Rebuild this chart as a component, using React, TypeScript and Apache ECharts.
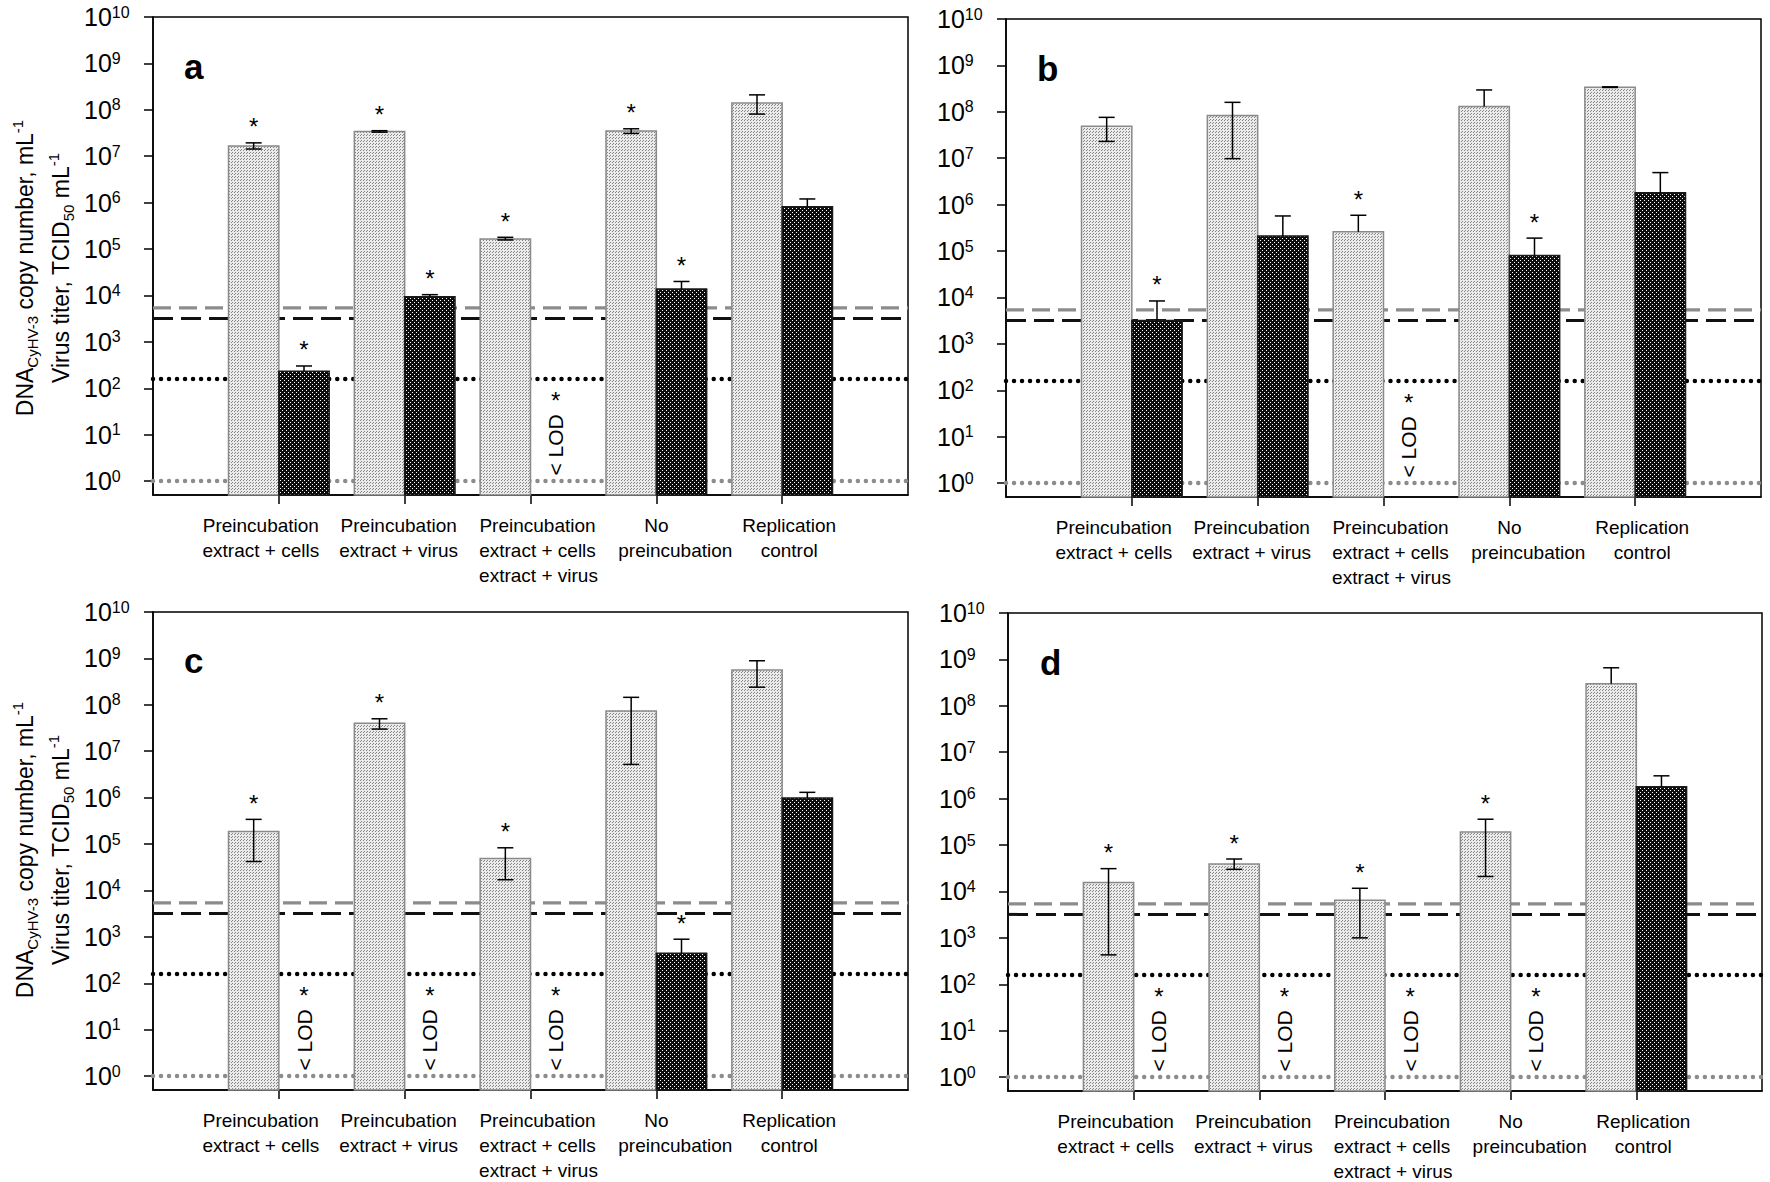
import React, { useEffect, useRef } from "react";
import * as echarts from "echarts";

// ---------- data ----------
const categories = [
  "Preincubation\nextract + cells",
  "Preincubation\nextract + virus",
  "Preincubation\nextract + cells\nextract + virus",
  "No\npreincubation",
  "Replication\ncontrol",
];
const exponents = [0, 1, 2, 3, 4, 5, 6, 7, 8, 9, 10];
const panelLetters = ["a", "b", "c", "d"];

// limit lines: grey dashed, black dashed, black dotted, grey dotted
const limitValues = [5400, 3200, 158, 1];

// panel a
const aGray = [1.66e7, 3.43e7, 1.65e5, 3.5e7, 1.4e8];
const aGrayLow = [1.43e7, 3.3e7, 1.57e5, 3.1e7, 8.1e7];
const aGrayHigh = [1.94e7, 3.55e7, 1.79e5, 3.9e7, 2.1e8];
const aGraySig = [1, 1, 1, 1, 0];
const aBlack = [232, 9.4e3, null, 1.37e4, 8.2e5];
const aBlackHigh = [302, 1.04e4, null, 2.0e4, 1.2e6];
const aBlackSig = [1, 1, 1, 1, 0];

// panel b
const bGray = [4.9e7, 8.3e7, 2.6e5, 1.3e8, 3.4e8];
const bGrayLow = [2.3e7, 9.8e6, 2.6e5, 1.3e8, 3.35e8];
const bGrayHigh = [7.6e7, 1.6e8, 5.9e5, 2.96e8, 3.45e8];
const bGraySig = [0, 0, 1, 0, 0];
const bBlack = [3.2e3, 2.1e5, null, 8.0e4, 1.8e6];
const bBlackHigh = [8.4e3, 5.7e5, null, 1.9e5, 4.9e6];
const bBlackSig = [1, 0, 1, 1, 0];

// panel c
const cGray = [1.87e5, 4.0e7, 4.9e4, 7.4e7, 5.6e8];
const cGrayLow = [4.2e4, 3.0e7, 1.7e4, 5.2e6, 2.4e8];
const cGrayHigh = [3.4e5, 5.0e7, 8.3e4, 1.45e8, 8.9e8];
const cGraySig = [1, 1, 1, 0, 0];
const cBlack = [null, null, null, 445, 9.8e5];
const cBlackHigh = [null, null, null, 890, 1.3e6];
const cBlackSig = [1, 1, 1, 1, 0];

// panel d
const dGray = [1.55e4, 3.9e4, 6.5e3, 1.9e5, 3.0e8];
const dGrayLow = [430, 3.0e4, 1.0e3, 2.1e4, 3.0e8];
const dGrayHigh = [3.1e4, 5.0e4, 1.17e4, 3.6e5, 6.6e8];
const dGraySig = [1, 1, 1, 1, 0];
const dBlack = [null, null, null, null, 1.8e6];
const dBlackHigh = [null, null, null, null, 3.1e6];
const dBlackSig = [1, 1, 1, 1, 0];

// ---------- layout ----------
const FONT = "'Liberation Sans', Arial, Helvetica, sans-serif";
const Y_MIN = -0.3;
const Y_MAX = 10;
const BAR_W = 0.4;
const LOD_STAR = 1.85;
const LOD_TEXT = 0.78;
const LABEL_FS = 19;
const LABEL_LH = 25;
const LABEL_TOP = 30; // first label line centre below the axis
// horizontal pixel offset of each category label line relative to its tick
const labelLineShift = [
  [-18, -18],
  [-6, -6],
  [7, 7, 8],
  [0, 19],
  [7, 7],
];

const grids = [
  { left: 153, top: 17, width: 755, height: 478 },
  { left: 1006, top: 19, width: 755, height: 478 },
  { left: 153, top: 612, width: 755, height: 478 },
  { left: 1008, top: 613, width: 754, height: 478 },
];
const letterPos = [
  [184, 66],
  [1037, 68],
  [184, 660],
  [1040, 662],
];
const titleCenters = [268, 850];

const panels = [
  { gray: aGray, grayLow: aGrayLow, grayHigh: aGrayHigh, graySig: aGraySig, black: aBlack, blackHigh: aBlackHigh, blackSig: aBlackSig },
  { gray: bGray, grayLow: bGrayLow, grayHigh: bGrayHigh, graySig: bGraySig, black: bBlack, blackHigh: bBlackHigh, blackSig: bBlackSig },
  { gray: cGray, grayLow: cGrayLow, grayHigh: cGrayHigh, graySig: cGraySig, black: cBlack, blackHigh: cBlackHigh, blackSig: cBlackSig },
  { gray: dGray, grayLow: dGrayLow, grayHigh: dGrayHigh, graySig: dGraySig, black: dBlack, blackHigh: dBlackHigh, blackSig: dBlackSig },
];

function makePattern(size: number, bg: string, dot: string, dots: number[][]) {
  const c = document.createElement("canvas");
  c.width = size;
  c.height = size;
  const ctx = c.getContext("2d")!;
  ctx.fillStyle = bg;
  ctx.fillRect(0, 0, size, size);
  ctx.fillStyle = dot;
  dots.forEach(([x, y]) => ctx.fillRect(x, y, 1, 1));
  return { image: c, repeat: "repeat", imageWidth: size, imageHeight: size } as any;
}

const lg = (v: number) => Math.log10(v);

function renderCategoryLabel(params: any, api: any) {
  const x = api.value(0);
  const idx = Math.round(x) - 1;
  const base = api.coord([x, Y_MIN]);
  const lines = categories[idx].split("\n");
  return {
    type: "group",
    children: lines.map((line, k) => ({
      type: "text",
      x: base[0] + (labelLineShift[idx][k] || 0),
      y: base[1] + LABEL_TOP + k * LABEL_LH,
      style: {
        text: line,
        fontSize: LABEL_FS,
        fontFamily: FONT,
        fill: "#000",
        align: "center",
        verticalAlign: "middle",
      },
    })),
  };
}

function makeRender(isBlack: boolean, fill: any) {
  return (params: any, api: any) => {
    const x = api.value(0);
    const v = api.value(1);
    const lo = api.value(2);
    const hi = api.value(3);
    const sig = api.value(4);
    const lod = api.value(5);
    const xl = isBlack ? x : x - BAR_W;
    const xr = isBlack ? x + BAR_W : x;
    const xm = (xl + xr) / 2;
    const children: any[] = [];
    if (lod) {
      const ps = api.coord([xm, LOD_STAR]);
      const pt = api.coord([xm, LOD_TEXT]);
      children.push({
        type: "text",
        x: ps[0],
        y: ps[1] + 5,
        style: { text: "*", fontSize: 24, fontFamily: FONT, fill: "#000", align: "center", verticalAlign: "middle" },
      });
      children.push({
        type: "text",
        x: pt[0],
        y: pt[1],
        rotation: Math.PI / 2,
        style: { text: "< LOD", fontSize: 21, fontFamily: FONT, fill: "#000", align: "center", verticalAlign: "middle" },
      });
      return { type: "group", children };
    }
    const tl = api.coord([xl, v]);
    const br = api.coord([xr, Y_MIN]);
    children.push({
      type: "rect",
      shape: { x: tl[0], y: tl[1], width: br[0] - tl[0], height: br[1] - tl[1] },
      style: { fill, stroke: isBlack ? "#1a1a1a" : "#8a8a8a", lineWidth: 1.5 },
    });
    const ph = api.coord([xm, hi]);
    const pl = api.coord([xm, lo]);
    const cap = 8;
    children.push({
      type: "line",
      shape: { x1: ph[0], y1: ph[1], x2: pl[0], y2: pl[1] },
      style: { stroke: "#000", lineWidth: 1.5 },
    });
    children.push({
      type: "line",
      shape: { x1: ph[0] - cap, y1: ph[1], x2: ph[0] + cap, y2: ph[1] },
      style: { stroke: "#000", lineWidth: 1.5 },
    });
    if (lo < v - 1e-6) {
      children.push({
        type: "line",
        shape: { x1: pl[0] - cap, y1: pl[1], x2: pl[0] + cap, y2: pl[1] },
        style: { stroke: "#000", lineWidth: 1.5 },
      });
    }
    if (sig) {
      children.push({
        type: "text",
        x: ph[0],
        y: Math.min(ph[1], tl[1]) - 16,
        style: { text: "*", fontSize: 24, fontFamily: FONT, fill: "#000", align: "center", verticalAlign: "middle" },
      });
    }
    return { type: "group", children };
  };
}

const limitStyles = [
  { color: "#8c8c8c", width: 3.2, type: [18, 8], cap: "butt" },
  { color: "#111111", width: 3, type: [20, 8], cap: "butt" },
  { color: "#000000", width: 4.5, type: [0.01, 8], cap: "round" },
  { color: "#8c8c8c", width: 4.5, type: [0.01, 8], cap: "round" },
];

export default function App() {
  const ref = useRef<HTMLDivElement>(null);
  useEffect(() => {
    if (!ref.current) return;
    const chart = echarts.init(ref.current, undefined, { renderer: "svg" });
    const grayFill = makePattern(3, "#ebebeb", "#858585", [[0, 0], [1, 2]]);
    const blackFill = makePattern(4, "#0d0d0d", "#ffffff", [[0, 0], [2, 2]]);

    const xAxes: any[] = [];
    const yAxes: any[] = [];
    const series: any[] = [];
    grids.forEach((g, i) => {
      xAxes.push({
        type: "value",
        gridIndex: i,
        min: 0,
        max: 6,
        axisLine: { show: true, onZero: false, lineStyle: { color: "#000", width: 1.5 } },
        axisTick: { show: true, customValues: [1, 2, 3, 4, 5], length: 9, inside: false, lineStyle: { color: "#000", width: 1.5 } },
        axisLabel: { show: false },
        splitLine: { show: false },
      });
      yAxes.push({
        type: "value",
        gridIndex: i,
        min: Y_MIN,
        max: Y_MAX,
        axisLine: { show: true, onZero: false, lineStyle: { color: "#000", width: 1.5 } },
        axisTick: { show: true, customValues: exponents, length: 9, inside: false, lineStyle: { color: "#000", width: 1.5 } },
        axisLabel: {
          customValues: exponents,
          formatter: (v: number) => `{b|10}{s|${Math.round(v)}}`,
          align: "left",
          margin: 69,
          color: "#000",
          showMinLabel: true,
          showMaxLabel: true,
          rich: {
            b: { fontSize: 25, lineHeight: 26, fontFamily: FONT, color: "#000" },
            s: { fontSize: 16, lineHeight: 18, fontFamily: FONT, color: "#000", verticalAlign: "top" },
          },
        },
        splitLine: { show: false },
      });
      limitValues.forEach((lv, k) => {
        series.push({
          type: "line",
          xAxisIndex: i,
          yAxisIndex: i,
          data: [[0, lg(lv)], [6, lg(lv)]],
          symbol: "none",
          silent: true,
          z: 1,
          lineStyle: limitStyles[k],
        });
      });
      const p = panels[i];
      const grayData = p.gray.map((v, j) => [j + 1, lg(v), lg(p.grayLow[j]), lg(p.grayHigh[j]), p.graySig[j], 0]);
      const blackData = p.black.map((v, j) =>
        v == null
          ? [j + 1, 0, 0, 0, p.blackSig[j], 1]
          : [j + 1, lg(v), lg(v), lg(p.blackHigh[j] as number), p.blackSig[j], 0]
      );
      series.push({
        type: "custom",
        xAxisIndex: i,
        yAxisIndex: i,
        z: 3,
        silent: true,
        renderItem: makeRender(false, grayFill),
        encode: { x: 0, y: 1 },
        data: grayData,
      });
      series.push({
        type: "custom",
        xAxisIndex: i,
        yAxisIndex: i,
        z: 3,
        silent: true,
        renderItem: makeRender(true, blackFill),
        encode: { x: 0, y: 1 },
        data: blackData,
      });
      series.push({
        type: "custom",
        xAxisIndex: i,
        yAxisIndex: i,
        z: 4,
        silent: true,
        clip: false,
        renderItem: renderCategoryLabel,
        encode: { x: 0, y: 1 },
        data: categories.map((_, j) => [j + 1, Y_MIN]),
      });
    });

    const titleRich = {
      m: { fontSize: 23, lineHeight: 30, fontFamily: FONT, fill: "#000" },
      sub: { fontSize: 15, lineHeight: 15, fontFamily: FONT, fill: "#000", verticalAlign: "bottom" },
      sup: { fontSize: 15, lineHeight: 15, fontFamily: FONT, fill: "#000", verticalAlign: "top" },
    };
    const graphics: any[] = [];
    titleCenters.forEach((cy) => {
      graphics.push({
        type: "text",
        x: 25,
        y: cy,
        rotation: Math.PI / 2,
        style: {
          text: "{m|DNA}{sub|CyHV-3}{m| copy number, mL}{sup|-1}",
          rich: titleRich,
          align: "center",
          verticalAlign: "middle",
        },
      });
      graphics.push({
        type: "text",
        x: 61,
        y: cy,
        rotation: Math.PI / 2,
        style: {
          text: "{m|Virus titer, TCID}{sub|50}{m| mL}{sup|-1}",
          rich: titleRich,
          align: "center",
          verticalAlign: "middle",
        },
      });
    });
    panelLetters.forEach((l, i) => {
      graphics.push({
        type: "text",
        x: letterPos[i][0],
        y: letterPos[i][1],
        style: {
          text: l,
          fontSize: 35,
          fontWeight: "bold",
          fontFamily: FONT,
          fill: "#000",
          align: "left",
          verticalAlign: "middle",
        },
      });
    });

    chart.setOption({
      animation: false,
      backgroundColor: "#ffffff",
      grid: grids.map((g) => ({ ...g, show: true, borderColor: "#000", borderWidth: 1.5, containLabel: false })),
      xAxis: xAxes,
      yAxis: yAxes,
      series,
      graphic: graphics,
    });
    return () => chart.dispose();
  }, []);
  return (
    <div
      ref={ref}
      style={{ position: "absolute", left: 0, top: 0, width: 1770, height: 1182, background: "#fff" }}
    />
  );
}
